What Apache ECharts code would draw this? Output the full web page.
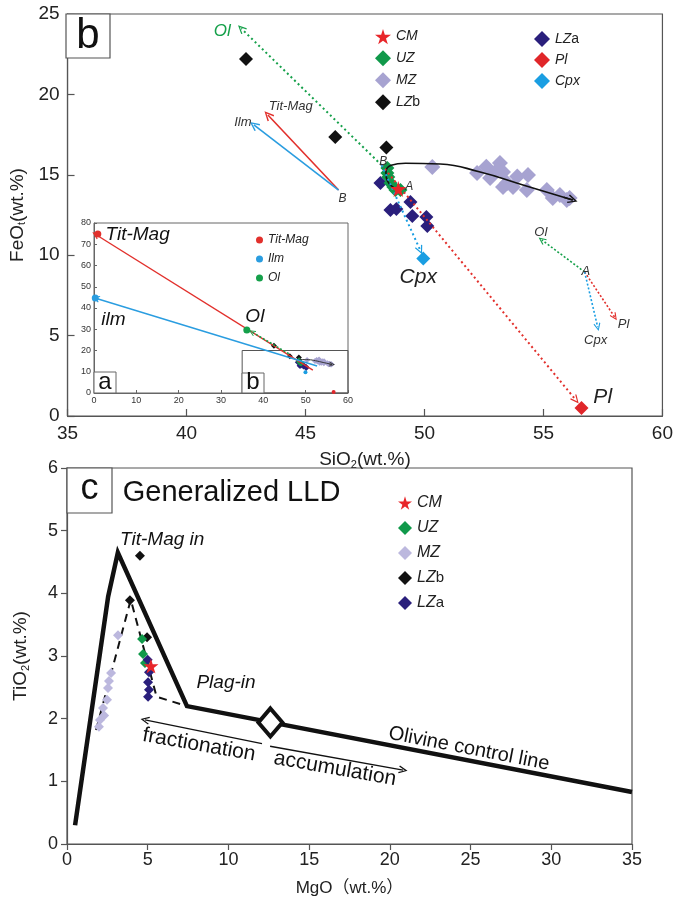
<!DOCTYPE html>
<html>
<head>
<meta charset="utf-8">
<script src="https://cdn.jsdelivr.net/npm/echarts@6/dist/echarts.min.js"></script>
<style>
html,body{margin:0;padding:0;background:#fff}
#chart{width:676px;height:898px}
</style>
</head>
<body>
<div id="chart"></div>
<script>
// ---- panel b : SiO2 vs FeOt ----
var cmB = [[48.9, 14.12]];
var uzB = [[48.44, 15.42], [48.44, 15.11], [48.48, 14.86], [48.57, 14.49], [48.69, 14.24], [48.78, 14.05], [48.99, 14.05]];
var mzB = [[50.33, 15.49], [52.21, 15.11], [52.6, 15.5], [52.76, 14.8], [53.17, 15.73], [53.05, 15.3], [53.3, 15.17],
           [53.47, 14.49], [53.72, 14.24], [53.3, 14.24], [53.9, 14.9], [54.35, 14.99], [54.3, 14.05], [55.14, 14.05],
           [55.39, 13.56], [55.69, 13.74], [55.98, 13.43], [56.1, 13.56]];
var lzbB = [[42.5, 22.2], [46.25, 17.35], [48.4, 16.7]];
var lzaB = [[48.15, 14.49], [48.57, 12.81], [48.82, 12.87], [49.41, 13.31], [49.49, 12.44], [50.08, 12.38], [50.12, 11.82]];
var plB = [[56.6, 0.5]];
var cpxB = [[49.95, 9.8]];
var trendB = [[48.85, 14.1], [48.45, 14.6], [48.38, 15.15], [48.6, 15.6], [49.2, 15.72], [50.66, 15.67],
              [52.34, 15.17], [54.14, 14.37], [56.23, 13.43]];
// vectors (from -> to)
var ptB1 = [46.39, 14.05];          // B for oxide vectors
var ptB2 = [48.2, 15.6];            // B for mineral vectors
var ptA = [56.73, 8.96];            // A, small vector sketch
var tipTitMag = [43.42, 18.72];
var tipIlm = [42.83, 18.1];
var tipOl = [42.3, 24.1];
var tipPl = [56.36, 1.0];
var tipCpx = [49.82, 10.32];
var tipAOl = [54.93, 10.95];
var tipAPl = [57.99, 6.16];
var tipACpx = [57.28, 5.53];

// ---- inset a ----
var titMagA = [[0.9, 74.8]];
var ilmA = [[0.3, 44.7]];
var olA = [[36.1, 29.6]];
var lineTitMagA = [[51.7, 10.8], [0.4, 74.6]];
var lineIlmA = [[52.7, 12.7], [0.4, 44.6]];
var lineOlA = [[46, 18.5], [37.3, 28.7]];
var boxBA = [[35, 0], [60, 20]];

// ---- panel c : MgO vs TiO2 ----
var cmC = [[5.2, 2.84]];
var uzC = [[4.65, 3.27], [4.71, 3.03], [4.83, 2.89]];
var mzC = [[3.16, 3.33], [2.73, 2.73], [2.6, 2.6], [2.54, 2.49], [2.48, 2.3], [2.23, 2.17], [2.3, 2.05], [2.04, 1.98], [1.98, 1.87]];
var lzbC = [[4.52, 4.6], [3.9, 3.89], [4.96, 3.3]];
var lzaC = [[5.0, 2.94], [5.08, 2.74], [5.02, 2.58], [5.08, 2.46], [5.02, 2.35]];
var lldC = [[0.5, 0.3], [2.55, 3.95], [3.15, 4.65], [7.43, 2.2], [35, 0.83]];
var dashC = [[1.8, 1.82], [3.95, 3.9], [5.55, 2.35], [7.43, 2.2]];
var plagPointC = [[12.6, 1.94]];
var fracArrow = [[12.08, 1.6], [4.83, 1.98]];
var accuArrow = [[12.58, 1.56], [20.82, 1.18]];

var FONT = '"Liberation Sans", Arial, "Noto Sans CJK SC", sans-serif';
var STAR = 'path://M50,0 L61,35 L98,35 L68,57 L79,91 L50,70 L21,91 L32,57 L2,35 L39,35 Z';
var CHEV = 'path://M0,10 L5,0 L10,10 L8.6,10.8 L5,3.2 L1.4,10.8 Z';

var C = {
  cm: '#e8262a', uz: '#10994a', mz: '#a7a3d1', mzc: '#bcb8de', lzb: '#111111', lza: '#2a1f7c',
  pl: '#e0262a', cpx: '#1a9ee2', red: '#e2302c', blue: '#2a9de0', green: '#15a04a'
};

function pts(name, xi, data, symbol, size, color, z) {
  return {
    type: 'scatter', name: name, xAxisIndex: xi, yAxisIndex: xi, data: data,
    symbol: symbol, symbolSize: size, itemStyle: { color: color, opacity: 1 },
    z: z || 3, silent: true
  };
}

function arrow(xi, from, to, color, type, width, head) {
  return {
    type: 'scatter', xAxisIndex: xi, yAxisIndex: xi, data: [from], symbolSize: 0, silent: true, z: 4,
    itemStyle: { opacity: 0 },
    markLine: {
      silent: true, animation: false, symbol: ['none', CHEV], symbolSize: head || [8, 9],
      label: { show: false }, emphasis: { disabled: true },
      lineStyle: { color: color, type: type, width: width, opacity: 1 },
      data: [[{ coord: from }, { coord: to }]]
    }
  };
}

function note(xi, txt, x, y, style, rotate, pos) {
  var lab = { show: true, position: pos || 'inside', distance: 0, formatter: txt, rotate: rotate || 0,
    color: '#111', fontFamily: FONT, textBorderWidth: 0, textShadowBlur: 0, opacity: 1 };
  for (var k in style) lab[k] = style[k];
  return { type: 'scatter', xAxisIndex: xi, yAxisIndex: xi, data: [[x, y]], symbolSize: 0, silent: true, z: 6,
    itemStyle: { color: 'transparent', opacity: 1 }, label: lab };
}

function axisCommon(extra) {
  var a = {
    type: 'value', splitLine: { show: false },
    axisLine: { show: true, onZero: false, lineStyle: { color: '#555', width: 1.2 } },
    axisTick: { show: true, inside: true, length: 7, lineStyle: { color: '#555', width: 1.2 } },
    axisLabel: { color: '#222', fontSize: 19, fontFamily: FONT, margin: 8 },
    nameLocation: 'middle',
    nameTextStyle: { color: '#222', fontSize: 19, fontFamily: FONT,
      rich: { s: { fontSize: 11, fontFamily: FONT, color: '#222', padding: [9, 0, 0, 0] } } }
  };
  for (var k in extra) a[k] = extra[k];
  return a;
}

var legendRich = {
  i: { fontStyle: 'italic', fontFamily: FONT, color: '#222' },
  n: { fontStyle: 'normal', fontFamily: FONT, color: '#222' }
};
function legendFmt(name) {
  var n = name.replace(/^c-/, '');
  if (n === 'LZb') return '{i|LZ}{n|b}';
  if (n === 'LZa') return '{i|LZ}{n|a}';
  return '{i|' + n + '}';
}

var series = [
  // ----- panel b -----
  { type: 'line', xAxisIndex: 0, yAxisIndex: 0, data: trendB, smooth: 0.5, symbol: 'none', silent: true, z: 4,
    lineStyle: { color: '#111', width: 1.6 } },
  arrow(0, [55.85, 13.6], [56.23, 13.43], '#111', 'solid', 1.6, [9, 10]),
  arrow(0, ptB1, tipTitMag, C.red, 'solid', 1.6, [9, 10]),
  arrow(0, ptB1, tipIlm, C.blue, 'solid', 1.6, [9, 10]),
  arrow(0, ptB2, tipOl, C.green, [2, 3], 2, [8, 9]),
  arrow(0, ptB2, tipPl, C.red, [2, 3], 2, [8, 9]),
  arrow(0, ptB2, tipCpx, C.cpx, [2, 3], 2, [8, 9]),
  arrow(0, ptA, tipAOl, C.green, [2, 2], 1.6, [7, 8]),
  arrow(0, ptA, tipAPl, C.red, [2, 2], 1.6, [7, 8]),
  arrow(0, ptA, tipACpx, C.cpx, [2, 2], 1.6, [7, 8]),
  pts('MZ', 0, mzB, 'diamond', 16, C.mz),
  pts('LZb', 0, lzbB, 'diamond', 14, C.lzb),
  pts('LZa', 0, lzaB, 'diamond', 14, C.lza),
  pts('UZ', 0, uzB, 'diamond', 14, C.uz),
  pts('Pl', 0, plB, 'diamond', 14, C.pl),
  pts('Cpx', 0, cpxB, 'diamond', 14, C.cpx),
  pts('CM', 0, cmB, STAR, 16, C.cm, 5),
  note(0, 'Ol', 41.5, 23.9, { fontSize: 17, fontStyle: 'italic', color: C.green }),
  note(0, 'Tit-Mag', 44.38, 19.28, { fontSize: 13, fontStyle: 'italic', color: '#333' }),
  note(0, 'Ilm', 42.37, 18.28, { fontSize: 13, fontStyle: 'italic', color: '#333' }),
  note(0, 'B', 46.56, 13.5, { fontSize: 12, fontStyle: 'italic', color: '#333' }),
  note(0, 'B', 48.27, 15.8, { fontSize: 12, fontStyle: 'italic', color: '#333' }),
  note(0, 'A', 49.36, 14.24, { fontSize: 12, fontStyle: 'italic', color: '#333' }),
  note(0, 'Cpx', 49.74, 8.64, { fontSize: 21, fontStyle: 'italic', color: '#222' }),
  note(0, 'Pl', 57.49, 1.18, { fontSize: 21, fontStyle: 'italic', color: '#222' }),
  note(0, 'Ol', 54.89, 11.44, { fontSize: 13, fontStyle: 'italic', color: '#333' }),
  note(0, 'A', 56.78, 9.02, { fontSize: 13, fontStyle: 'italic', color: '#333' }),
  note(0, 'Pl', 58.37, 5.72, { fontSize: 13, fontStyle: 'italic', color: '#333' }),
  note(0, 'Cpx', 57.19, 4.73, { fontSize: 13, fontStyle: 'italic', color: '#333' }),

  // ----- inset a -----
  { type: 'scatter', xAxisIndex: 1, yAxisIndex: 1, data: [], silent: true,
    markArea: { silent: true, itemStyle: { color: 'rgba(0,0,0,0)', borderColor: '#555', borderWidth: 1 },
      data: [[{ coord: boxBA[0] }, { coord: boxBA[1] }]] } },
  arrow(1, lineTitMagA[0], lineTitMagA[1], C.red, 'solid', 1.4, [7, 8]),
  arrow(1, lineIlmA[0], lineIlmA[1], C.blue, 'solid', 1.4, [7, 8]),
  arrow(1, lineOlA[0], lineOlA[1], C.green, [2, 2], 1.6, [6, 7]),
  { type: 'line', xAxisIndex: 1, yAxisIndex: 1, data: trendB, smooth: 0.5, symbol: 'none', silent: true, z: 4,
    lineStyle: { color: '#333', width: 1 } },
  arrow(1, [55.6, 13.6], [56.23, 13.43], '#333', 'solid', 1, [5, 6]),
  pts('a-MZ', 1, mzB, 'diamond', 6, C.mz),
  pts('a-LZb', 1, lzbB, 'diamond', 6, C.lzb),
  pts('a-LZa', 1, lzaB, 'diamond', 6, C.lza),
  pts('a-UZ', 1, uzB, 'diamond', 6, C.uz),
  pts('a-Pl', 1, plB, 'circle', 4, C.pl),
  pts('a-Cpx', 1, cpxB, 'circle', 4, C.cpx),
  pts('Tit-Mag', 1, titMagA, 'circle', 7, C.red, 5),
  pts('Ilm', 1, ilmA, 'circle', 7, C.blue, 5),
  pts('Ol', 1, olA, 'circle', 7, C.green, 5),
  note(1, 'Tit-Mag', 10.3, 74.4, { fontSize: 19, fontStyle: 'italic' }),
  note(1, 'ilm', 4.6, 34.4, { fontSize: 19, fontStyle: 'italic' }),
  note(1, 'Ol', 38, 36, { fontSize: 19, fontStyle: 'italic' }),

  // ----- panel c -----
  { type: 'line', xAxisIndex: 2, yAxisIndex: 2, data: dashC, symbol: 'none', silent: true, z: 3,
    lineStyle: { color: '#111', width: 2, type: [8, 6] } },
  { type: 'line', xAxisIndex: 2, yAxisIndex: 2, data: lldC, symbol: 'none', silent: true, z: 3,
    lineStyle: { color: '#111', width: 4.5, join: 'miter' } },
  { type: 'scatter', xAxisIndex: 2, yAxisIndex: 2, data: plagPointC, symbol: 'diamond', symbolSize: [24, 28],
    silent: true, z: 4, itemStyle: { color: '#fff', borderColor: '#111', borderWidth: 4, opacity: 1 } },
  arrow(2, fracArrow[0], fracArrow[1], '#111', 'solid', 1.3, [8, 9]),
  arrow(2, accuArrow[0], accuArrow[1], '#111', 'solid', 1.3, [8, 9]),
  pts('c-MZ', 2, mzC, 'diamond', 10, C.mzc),
  pts('c-LZb', 2, lzbC, 'diamond', 10, C.lzb),
  pts('c-UZ', 2, uzC, 'diamond', 10, C.uz),
  pts('c-LZa', 2, lzaC, 'diamond', 10, C.lza),
  pts('c-CM', 2, cmC, STAR, 15, C.cm, 5),
  note(2, 'Generalized LLD', 3.45, 5.6, { fontSize: 29 }, 0, 'right'),
  note(2, 'Tit-Mag in', 5.9, 4.85, { fontSize: 19, fontStyle: 'italic' }),
  note(2, 'Plag-in', 9.85, 2.57, { fontSize: 19, fontStyle: 'italic' }),
  note(2, 'fractionation', 8.18, 1.58, { fontSize: 21 }, -10),
  note(2, 'accumulation', 16.6, 1.2, { fontSize: 21 }, -10),
  note(2, 'Olivine control line', 24.9, 1.52, { fontSize: 20 }, -11)
];

var option = {
  animation: false,
  backgroundColor: '#fff',
  textStyle: { fontFamily: FONT },
  grid: [
    { left: 66, top: 14, width: 597, height: 402, show: true, borderColor: '#555', borderWidth: 1.2, containLabel: false },
    { left: 94, top: 223, width: 254, height: 170, show: true, backgroundColor: '#fff', borderColor: '#666', borderWidth: 1 },
    { left: 67, top: 468, width: 565, height: 376, show: true, borderColor: '#555', borderWidth: 1.2 }
  ],
  xAxis: [
    axisCommon({ gridIndex: 0, min: 35, max: 60, interval: 5, name: 'SiO{s|2}(wt.%)', nameGap: 34 }),
    axisCommon({ gridIndex: 1, min: 0, max: 60, interval: 10,
      axisLine: { show: true, onZero: false, lineStyle: { color: '#666', width: 1 } },
      axisTick: { show: true, inside: true, length: 3, lineStyle: { color: '#666' } },
      axisLabel: { color: '#333', fontSize: 9, fontFamily: FONT, margin: 3 } }),
    axisCommon({ gridIndex: 2, min: 0, max: 35, interval: 5, name: 'MgO（wt.%）', nameGap: 36,
      axisTick: { show: true, inside: false, length: 6, lineStyle: { color: '#555', width: 1.2 } },
      axisLabel: { color: '#222', fontSize: 18, fontFamily: FONT, margin: 7 },
      nameTextStyle: { color: '#222', fontSize: 17, fontFamily: FONT } })
  ],
  yAxis: [
    axisCommon({ gridIndex: 0, min: 0, max: 25, interval: 5, name: 'FeO{s|t}(wt.%)', nameGap: 38 }),
    axisCommon({ gridIndex: 1, min: 0, max: 80, interval: 10,
      axisLine: { show: true, onZero: false, lineStyle: { color: '#666', width: 1 } },
      axisTick: { show: true, inside: true, length: 3, lineStyle: { color: '#666' } },
      axisLabel: { color: '#333', fontSize: 9, fontFamily: FONT, margin: 3 } }),
    axisCommon({ gridIndex: 2, min: 0, max: 6, interval: 1, name: 'TiO{s|2}(wt.%)', nameGap: 36,
      axisTick: { show: true, inside: false, length: 6, lineStyle: { color: '#555', width: 1.2 } },
      axisLabel: { color: '#222', fontSize: 18, fontFamily: FONT, margin: 9 } })
  ],
  legend: [
    { data: ['CM', 'UZ', 'MZ', 'LZb'], orient: 'vertical', left: 370, top: 24, itemWidth: 16, itemHeight: 16,
      itemGap: 6, itemTextGap: 3, selectedMode: false, formatter: legendFmt,
      textStyle: { fontSize: 14, rich: { i: Object.assign({ fontSize: 14 }, legendRich.i), n: Object.assign({ fontSize: 14 }, legendRich.n) } } },
    { data: ['LZa', 'Pl', 'Cpx'], orient: 'vertical', left: 529, top: 26, itemWidth: 16, itemHeight: 16,
      itemGap: 5, itemTextGap: 2, selectedMode: false, formatter: legendFmt,
      textStyle: { fontSize: 14, rich: { i: Object.assign({ fontSize: 14 }, legendRich.i), n: Object.assign({ fontSize: 14 }, legendRich.n) } } },
    { data: ['Tit-Mag', 'Ilm', 'Ol'], orient: 'vertical', left: 251, top: 229, itemWidth: 7, itemHeight: 7,
      itemGap: 7, itemTextGap: 4, selectedMode: false, formatter: legendFmt,
      textStyle: { fontSize: 12, rich: { i: Object.assign({ fontSize: 12 }, legendRich.i) } } },
    { data: ['c-CM', 'c-UZ', 'c-MZ', 'c-LZb', 'c-LZa'], orient: 'vertical', left: 393, top: 490, itemWidth: 14, itemHeight: 14,
      itemGap: 9, itemTextGap: 2, selectedMode: false, formatter: legendFmt,
      textStyle: { fontSize: 16, rich: { i: Object.assign({ fontSize: 16 }, legendRich.i), n: Object.assign({ fontSize: 15 }, legendRich.n) } } }
  ],
  graphic: [
    { type: 'rect', z: 10, shape: { x: 66, y: 14, width: 44, height: 44 }, style: { fill: '#fff', stroke: '#555', lineWidth: 1.2 } },
    { type: 'text', z: 11, x: 88, y: 36, style: { text: 'b', font: '42px ' + FONT, fill: '#111', align: 'center', verticalAlign: 'middle' } },
    { type: 'rect', z: 10, shape: { x: 67, y: 468, width: 45, height: 45 }, style: { fill: '#fff', stroke: '#555', lineWidth: 1.2 } },
    { type: 'text', z: 11, x: 89.5, y: 489, style: { text: 'c', font: '36px ' + FONT, fill: '#111', align: 'center', verticalAlign: 'middle' } },
    { type: 'rect', z: 10, shape: { x: 94, y: 372, width: 22, height: 21 }, style: { fill: '#fff', stroke: '#666', lineWidth: 1 } },
    { type: 'text', z: 11, x: 105, y: 382, style: { text: 'a', font: '24px ' + FONT, fill: '#111', align: 'center', verticalAlign: 'middle' } },
    { type: 'rect', z: 10, shape: { x: 242, y: 373, width: 22, height: 20 }, style: { fill: '#fff', stroke: '#666', lineWidth: 1 } },
    { type: 'text', z: 11, x: 253, y: 382, style: { text: 'b', font: '24px ' + FONT, fill: '#111', align: 'center', verticalAlign: 'middle' } }
  ],
  series: series
};

var chart = echarts.init(document.getElementById('chart'), null, { renderer: 'canvas' });
chart.setOption(option);
</script>
</body>
</html>
